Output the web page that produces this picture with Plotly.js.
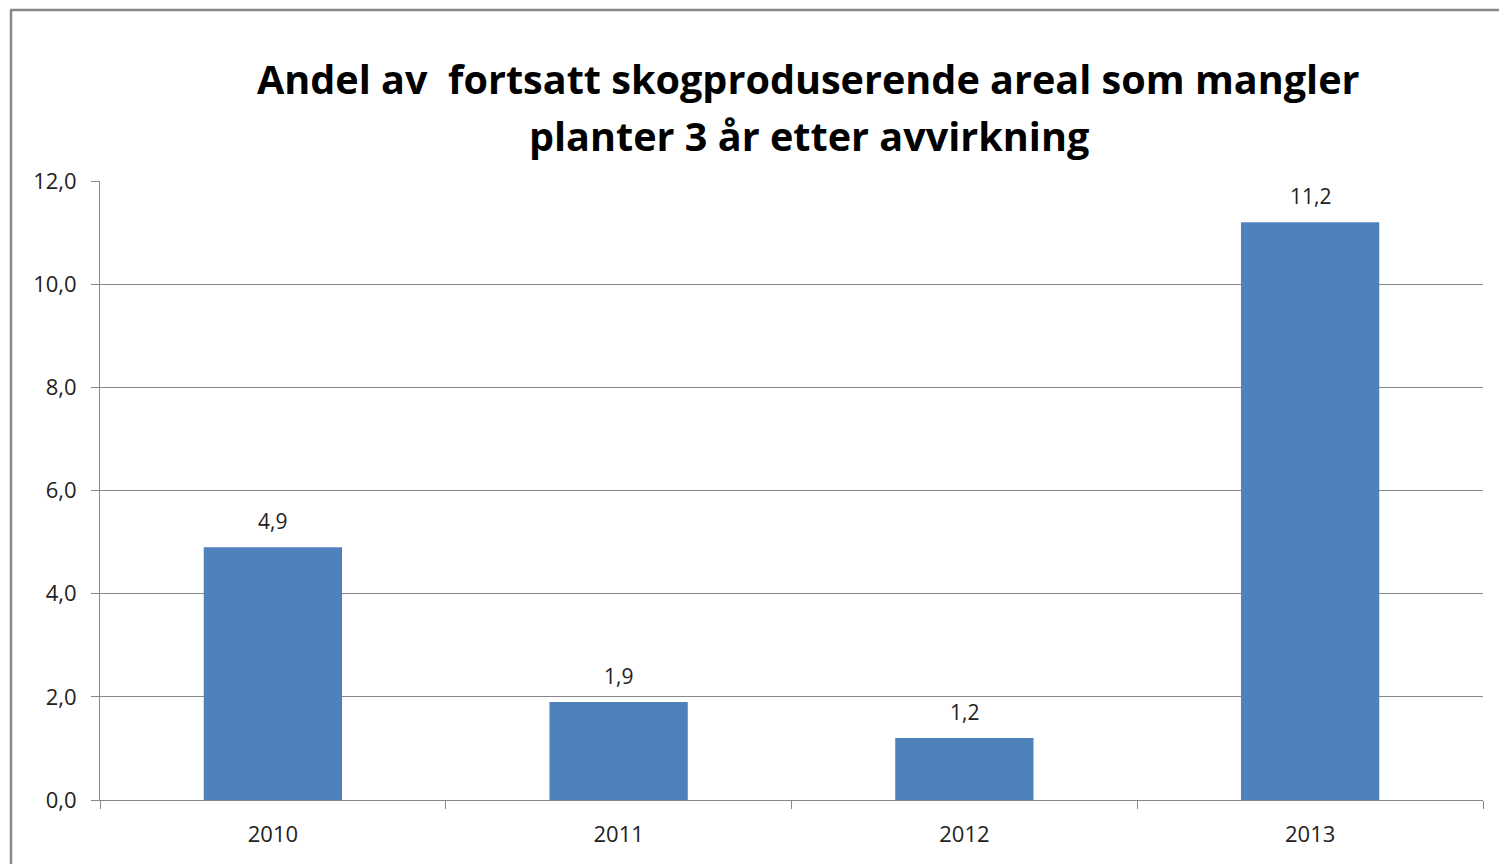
<!DOCTYPE html>
<html>
<head>
<meta charset="utf-8">
<script src="https://cdn.plot.ly/plotly-3.0.1.min.js"></script>
<style>html,body{margin:0;padding:0;background:#fff}#chart{width:1499px;height:864px}</style>
</head>
<body>
<div id="chart"></div>
<script>
const years = ["2010", "2011", "2012", "2013"];
const values = [4.9, 1.9, 1.2, 11.2];
const yTicks = [0, 2, 4, 6, 8, 10, 12];
const titleLines = ["Andel av  fortsatt skogproduserende areal som mangler", "planter 3 år etter avvirkning"];

const W = 1499, H = 864;
const m = {l: 100, r: 16, t: 181, b: 64};
const pw = W - m.l - m.r, ph = H - m.t - m.b;
const px = x => (x - m.l) / pw;
const py = y => (H - m.b - y) / ph;
const fmt = v => v.toFixed(1).replace(".", ",");

const trace = {
  type: "bar",
  x: years,
  y: values,
  marker: {color: "#4F81BD"},
  cliponaxis: false,
  hoverinfo: "none"
};

const titleFont = {family: "Open Sans, sans-serif", size: 39.6, color: "#000", weight: "bold"};
const annotations = [
  {text: titleLines[0], xref: "paper", yref: "paper", x: px(808), y: py(79), xanchor: "center", yanchor: "middle", showarrow: false, font: titleFont},
  {text: titleLines[1], xref: "paper", yref: "paper", x: px(809), y: py(136), xanchor: "center", yanchor: "middle", showarrow: false, font: titleFont}
].concat(years.map((yr, i) => ({
  text: fmt(values[i]), x: i, y: values[i], xref: "x", yref: "y",
  xanchor: "center", yanchor: "middle", yshift: 26, showarrow: false,
  font: {family: "Open Sans, sans-serif", size: 21, color: "#222"}
})));

const layout = {
  width: W, height: H,
  margin: m,
  paper_bgcolor: "#fff",
  plot_bgcolor: "#fff",
  separators: ", ",
  showlegend: false,
  bargap: 0.6,
  font: {family: "Open Sans, sans-serif", color: "#222"},
  xaxis: {
    type: "category",
    categoryarray: years,
    range: [-0.5, years.length - 0.5],
    tickson: "boundaries",
    ticks: "outside", ticklen: 8, tickcolor: "#888", tickwidth: 1,
    showline: true, linecolor: "#888", linewidth: 1,
    showgrid: false,
    tickfont: {family: "Open Sans, sans-serif", size: 22, color: "#222"},
    ticklabelstandoff: 15
  },
  yaxis: {
    range: [0, 12],
    tickvals: yTicks,
    tickformat: ".1f",
    ticks: "outside", ticklen: 8, tickcolor: "#888", tickwidth: 1,
    showline: true, linecolor: "#888", linewidth: 1,
    showgrid: true, gridcolor: "#888", gridwidth: 1,
    zeroline: false,
    tickfont: {family: "Open Sans, sans-serif", size: 22, color: "#222"},
    ticklabelstandoff: 10
  },
  annotations: annotations,
  shapes: [
    {type: "line", xref: "paper", yref: "paper", x0: px(11), x1: px(11), y0: py(10), y1: py(870), line: {color: "#888", width: 2.5}},
    {type: "line", xref: "paper", yref: "paper", x0: px(10), x1: px(1510), y0: py(10), y1: py(10), line: {color: "#888", width: 2.5}}
  ]
};

Plotly.newPlot("chart", [trace], layout, {displayModeBar: false, staticPlot: true});
</script>
</body>
</html>
